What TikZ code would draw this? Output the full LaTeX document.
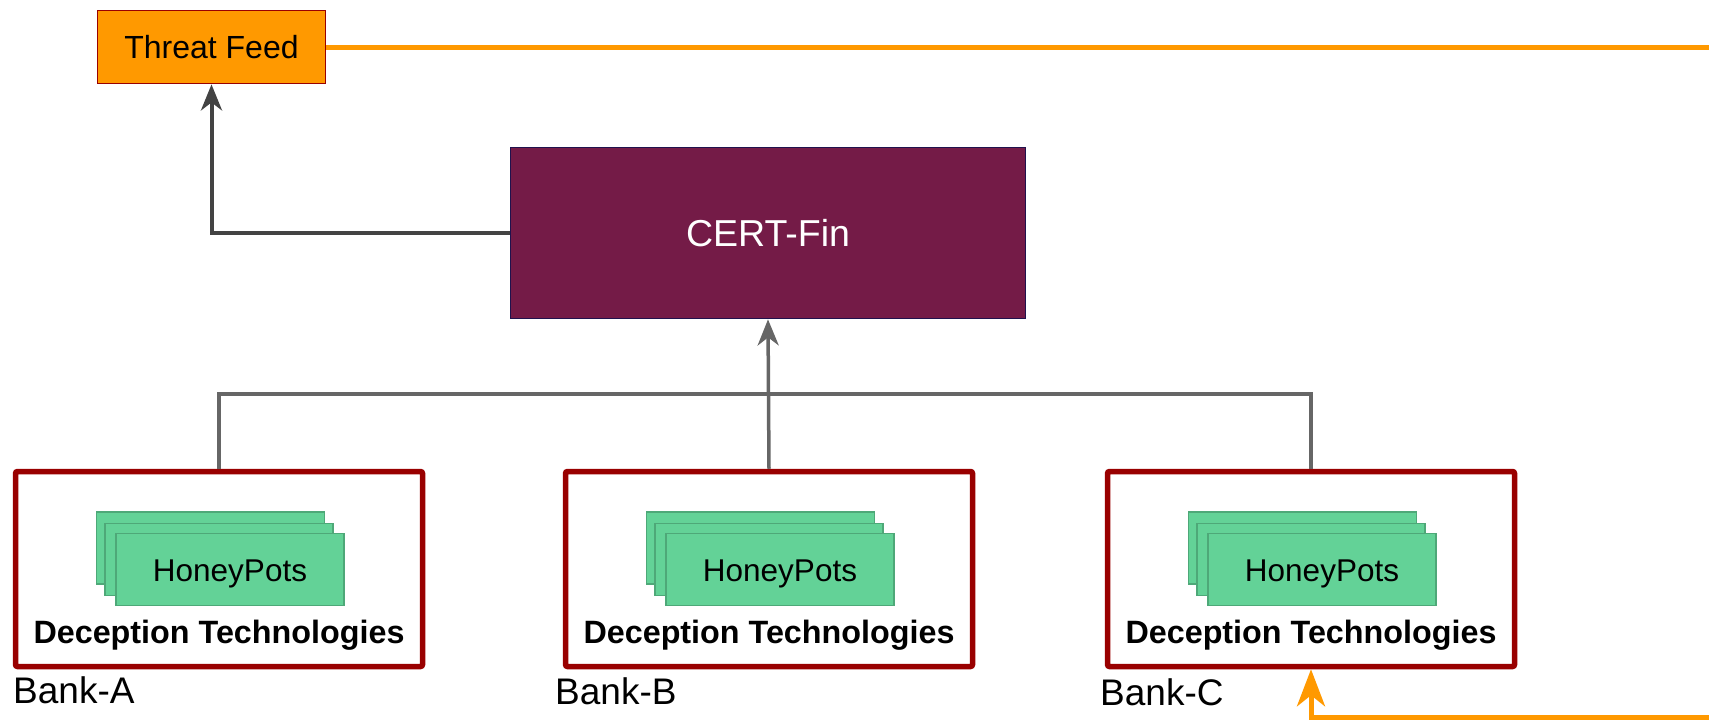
\documentclass[tikz,border=0pt]{standalone}
\usepackage{fontspec}
\setmainfont{Liberation Sans}
\usetikzlibrary{arrows.meta}
\definecolor{tforange}{HTML}{FF9900}
\definecolor{bankred}{HTML}{990000}
\definecolor{certfill}{HTML}{741B47}
\definecolor{certline}{HTML}{20124D}
\definecolor{hpfill}{HTML}{63D297}
\definecolor{hpline}{HTML}{4EA878}
\definecolor{busgray}{HTML}{666666}
\definecolor{darkgray2}{HTML}{434343}
\tikzset{
  tfbox/.style={draw=bankred, fill=tforange, line width=1.8pt, minimum width=228pt, minimum height=73pt, inner sep=0pt, font=\fontsize{32}{36}\selectfont},
  certbox/.style={draw=certline, fill=certfill, line width=1.8pt, minimum width=515pt, minimum height=171pt, inner sep=0pt, text=white, font=\fontsize{37.5}{42}\selectfont},
  bankbox/.style={draw=bankred, fill=white, line width=5.5pt, rounded corners=2pt, minimum width=407pt, minimum height=195pt, inner sep=0pt},
  hpbox/.style={draw=hpline, fill=hpfill, line width=1.5pt, minimum width=228pt, minimum height=72pt, inner sep=0pt},
  hptext/.style={anchor=base, inner sep=0pt, font=\fontsize{31.5}{36}\selectfont},
  dectext/.style={anchor=base, inner sep=0pt, font=\bfseries\fontsize{32.3}{36}\selectfont},
  banklabel/.style={anchor=base west, inner sep=0pt, font=\fontsize{37}{42}\selectfont},
  busline/.style={draw=busgray, line width=3.5pt},
  grayarrow/.style={busline, -{Stealth[length=26pt,width=21pt,inset=8pt]}},
  darkarrow/.style={draw=darkgray2, line width=4pt, -{Stealth[length=26pt,width=21pt,inset=8pt]}},
  orangearrow/.style={draw=tforange, line width=5pt, -{Stealth[length=37pt,width=28pt,inset=11pt]}},
}
\begin{document}
\begin{tikzpicture}[x=1pt, y=-1pt]
\useasboundingbox (0,0) rectangle (1709,720);
\clip (0,0) rectangle (1709,720);
\fill[white] (0,0) rectangle (1709,720);

% top nodes
\node[tfbox] (tf) at (211.5,47) {Threat Feed};
\node[certbox] (cert) at (768,233) {CERT-Fin};

% banks
\foreach \n/\cx/\lx/\ly in {A/219/13/703, B/769/555/704, C/1311/1100/705} {
  \node[bankbox] (bank\n) at (\cx,569) {};
  \node[hpbox] (hp\n back) at ({\cx-8.5},548) {};
  \node[hpbox] (hp\n mid) at ({\cx},559.5) {};
  \node[hpbox] (hp\n) at ({\cx+11},569.5) {};
  \node[hptext] (hp\n txt) at ({\cx+11},581) {HoneyPots};
  \node[dectext] (dec\n) at (\cx,643.5) {Deception Technologies};
  \node[banklabel] (lab\n) at (\lx,\ly) {Bank-\n};
}

% connectors
\coordinate (bus) at (0,394);
\draw[busline] (bankA.north) -- (bankA.north |- bus) -- (bankC.north |- bus) -- (bankC.north);
\draw[grayarrow] (bankB.north) -- (cert.south);
\draw[darkarrow] (cert.west) -| (tf.south);

\coordinate (rr) at (1730,717);
\draw[orangearrow] (tf.east) -| (rr) -| (bankC.south);
\end{tikzpicture}
\end{document}
